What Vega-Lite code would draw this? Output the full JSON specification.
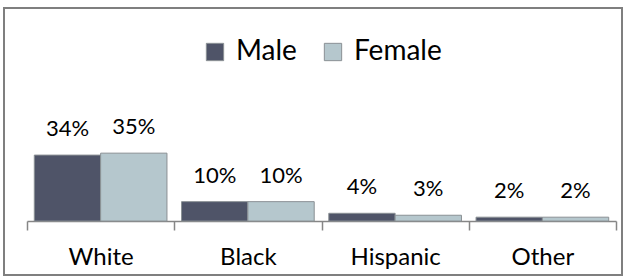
{
  "$schema": "https://vega.github.io/schema/vega-lite/v6.json",
  "width": 618,
  "height": 267,
  "autosize": {"type": "none"},
  "padding": {"left": 4, "top": 8, "right": 4, "bottom": 3},
  "background": "white",
  "config": {"view": {"stroke": "#7f7f7f", "strokeWidth": 2}, "font": "Lato"},
  "data": {
    "values": [
      {"race": "White", "sex": "Male", "value": 0.34},
      {"race": "White", "sex": "Female", "value": 0.35},
      {"race": "Black", "sex": "Male", "value": 0.10},
      {"race": "Black", "sex": "Female", "value": 0.10},
      {"race": "Hispanic", "sex": "Male", "value": 0.04},
      {"race": "Hispanic", "sex": "Female", "value": 0.03},
      {"race": "Other", "sex": "Male", "value": 0.02},
      {"race": "Other", "sex": "Female", "value": 0.02}
    ]
  },
  "encoding": {
    "x": {
      "field": "race",
      "type": "nominal",
      "sort": ["White", "Black", "Hispanic", "Other"],
      "scale": {"range": [23, 612], "paddingInner": 0, "paddingOuter": 0},
      "axis": {
        "title": null,
        "orient": "bottom",
        "offset": -54,
        "domainColor": "#868686",
        "domainWidth": 1.5,
        "tickColor": "#868686",
        "tickWidth": 1.5,
        "tickSize": 9,
        "tickBand": "extent",
        "labelAngle": 0,
        "labelFontSize": 24,
        "labelColor": "#000000",
        "labelPadding": 15,
        "labelFont": "Lato"
      }
    },
    "xOffset": {
      "field": "sex",
      "type": "nominal",
      "sort": ["Male", "Female"],
      "scale": {"paddingOuter": 0.11, "paddingInner": 0}
    }
  },
  "layer": [
    {
      "mark": {"type": "bar", "stroke": "#8a9094", "strokeWidth": 1},
      "encoding": {
        "y": {
          "field": "value",
          "type": "quantitative",
          "scale": {"domain": [-0.278, 1.098], "nice": false, "zero": false},
          "axis": null
        },
        "y2": {"datum": 0},
        "color": {
          "field": "sex",
          "type": "nominal",
          "sort": ["Male", "Female"],
          "scale": {"domain": ["Male", "Female"], "range": ["#4f5468", "#b5c7cd"]},
          "legend": {
            "orient": "none",
            "legendX": 197,
            "legendY": 30,
            "direction": "horizontal",
            "title": null,
            "symbolType": "square",
            "symbolSize": 300,
            "symbolStrokeColor": "#8a9094",
            "symbolStrokeWidth": 1,
            "labelFontSize": 28,
            "labelFont": "Lato",
            "labelColor": "#000000",
            "labelOffset": 7,
            "columnPadding": 22
          }
        }
      }
    },
    {
      "mark": {"type": "text", "dy": -19, "baseline": "alphabetic", "fontSize": 22, "font": "Lato", "color": "#000000"},
      "encoding": {
        "y": {"field": "value", "type": "quantitative"},
        "text": {"field": "value", "type": "quantitative", "format": ".0%"}
      }
    }
  ]
}
